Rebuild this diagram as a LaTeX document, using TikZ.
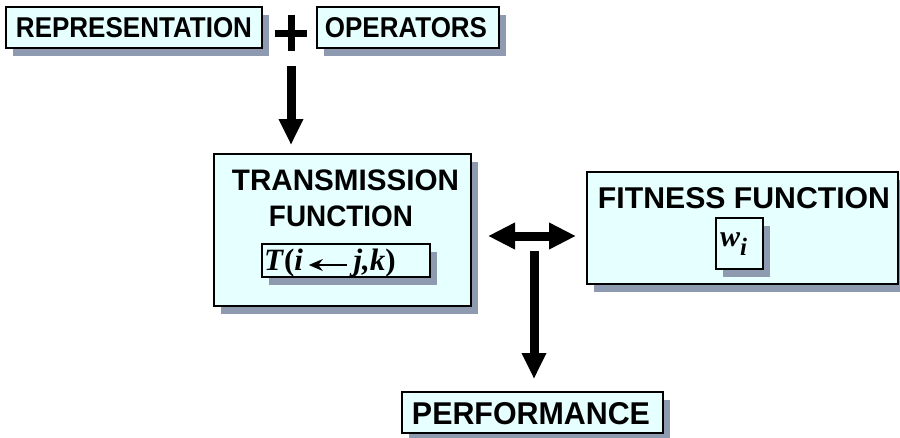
\documentclass[tikz,border=0pt]{standalone}
\usepackage{fontspec}
\setmainfont{Liberation Sans}
\newfontfamily\serifmath{Liberation Serif}
\usetikzlibrary{arrows.meta,shadows}
\definecolor{boxfill}{HTML}{E6FFFF}
\definecolor{shadowc}{HTML}{8E9AB0}
\tikzset{
  panel/.style={draw=black, line width=2pt, fill=boxfill, inner sep=0pt,
    drop shadow={shadow xshift=7pt, shadow yshift=-8pt, fill=shadowc, opacity=1}},
  subpanel/.style={panel, line width=1.6pt},
  caption/.style={inner sep=0pt, font=\bfseries},
  heavy/.style={line width=9pt, -{Triangle[length=26pt,width=23pt]}},
  heavyboth/.style={line width=9pt,
    {Triangle[length=27pt,width=25pt]}-{Triangle[length=27pt,width=25pt]}},
}
% bold capitals stretched to a given width and cap height (in pt)
\newcommand{\capsfit}[3]{\resizebox{#1pt}{#2pt}{\textbf{#3}}}
\begin{document}
\begin{tikzpicture}[x=1pt,y=-1pt]
\useasboundingbox (0,0) rectangle (900,437);

% top row
\node[panel, minimum width=256pt, minimum height=41pt] (rep) at (134,27.5) {};
\node[caption] (repT) at (134,27.5) {\capsfit{236}{20}{REPRESENTATION}};
\node[inner sep=0pt, minimum width=31pt, minimum height=36pt] (plus) at (291,33) {};
\draw[line width=7pt] (plus.west) -- (plus.east) (plus.north) -- (plus.south);
\node[panel, minimum width=182pt, minimum height=41pt] (ops) at (408,27.5) {};
\node[caption] (opsT) at (406,27.5) {\capsfit{162}{20}{OPERATORS}};

% transmission function
\node[panel, minimum width=257pt, minimum height=152pt] (trans) at (342.5,230) {};
\node[caption] (transT1) at (345.5,180) {\capsfit{227}{20.7}{TRANSMISSION}};
\node[caption] (transT2) at (341,216.5) {\capsfit{144}{20.7}{FUNCTION}};
\node[subpanel, minimum width=168pt, minimum height=33pt] (tbox) at (346,260.5) {};
\node[inner sep=0pt, anchor=base west] (tboxT) at (264,270)
  {\serifmath\bfseries\itshape\fontsize{31}{31}\selectfont
   T\textup{(}i\hspace{5pt}\tikz[baseline=-5pt]\draw[line width=1.5pt,
   {Stealth[length=14pt,width=12pt]}-] (0pt,0pt) -- (38pt,0pt);\hspace{6pt}j,k\textup{)}};

% fitness function
\node[panel, minimum width=311pt, minimum height=112pt] (fit) at (742.5,228) {};
\node[caption] (fitT) at (744,197.8) {\capsfit{292}{21}{FITNESS FUNCTION}};
\node[subpanel, minimum width=47pt, minimum height=51pt] (wbox) at (739.5,243.5) {};
\node[inner sep=0pt, anchor=base west] (wboxT) at (720,246)
  {\serifmath\bfseries\itshape\fontsize{30}{30}\selectfont
   w\hspace{0pt}\raisebox{-9pt}{\fontsize{25}{25}\selectfont i}};

% performance
\node[panel, minimum width=261pt, minimum height=41pt] (perf) at (532.5,412.5) {};
\node[caption] (perfT) at (531,414) {\capsfit{238}{22}{PERFORMANCE}};

% arrows
\coordinate (hub) at (532,236);
\coordinate (stem) at (534,251);
\draw[heavy, shorten >=8pt] ([yshift=-15pt]plus.south) -- (plus.south |- trans.north);
\draw[heavyboth, shorten <=16pt, shorten >=10pt] (trans.east |- hub) -- (fit.west |- hub);
\draw[heavy, shorten >=12pt] (stem) -- (stem |- perf.north);
\end{tikzpicture}
\end{document}
